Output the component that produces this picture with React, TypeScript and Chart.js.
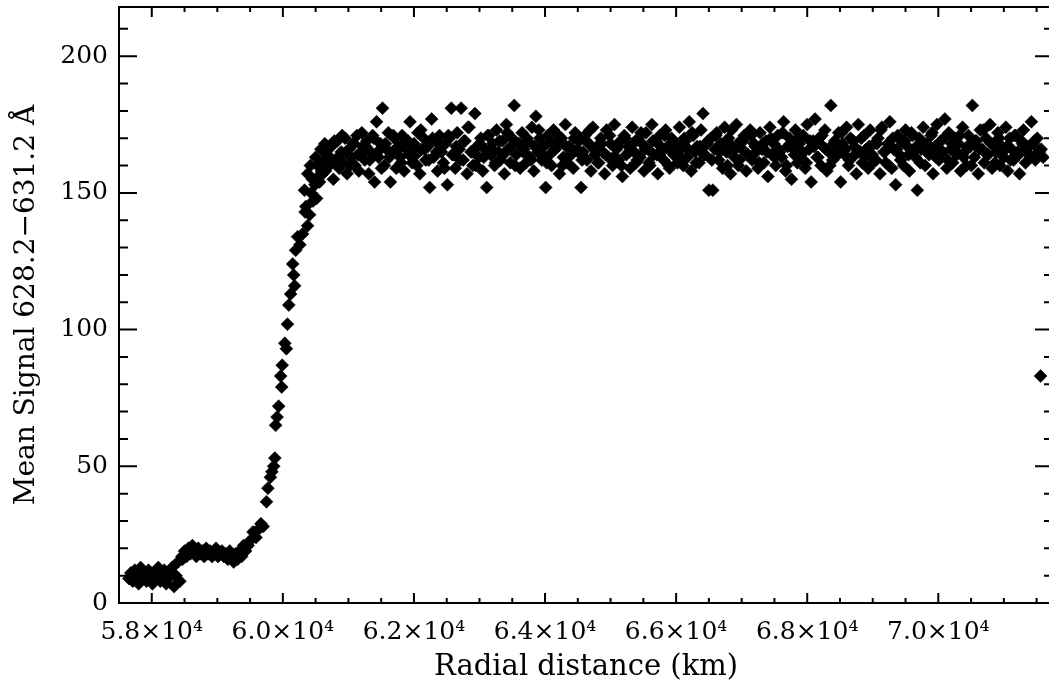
import React, { useEffect, useRef } from "react";
import { Chart, registerables } from "chart.js";

Chart.register(...registerables);

// ---------- data ----------
const radialKm: number[] = [
  // low plateau
  57650, 57680, 57710, 57740, 57770, 57800, 57830, 57860, 57890, 57920, 57950, 57980, 58010, 58040, 58070, 58100, 58130, 58160, 58190, 58220,
  58250, 58280, 58310, 58340, 58370, 58400, 58430, 58460,
  58470, 58500, 58530, 58560, 58590, 58620, 58650, 58680, 58710, 58740, 58770, 58800, 58830, 58860, 58890, 58920, 58950, 58980, 59010, 59040,
  59070, 59100, 59130, 59160, 59190, 59220, 59250, 59280, 59310, 59340, 59370, 59400, 59430,
  // rise
  59470, 59510, 59545, 59590, 59630, 59665, 59700, 59750, 59772, 59810, 59832, 59860, 59878, 59890, 59912, 59936, 59967, 59982, 59990, 60030,
  60054, 60070, 60091, 60118, 60150, 60165, 60180, 60195, 60225, 60260, 60301, 60330, 60340, 60350, 60377, 60380, 60408, 60420, 60430, 60450,
  60460, 60490, 60500, 60514, 60530, 60540, 60560, 60580, 60590, 60610, 60620, 60640,
  // high plateau
  60650, 60680, 60710, 60740, 60770, 60800, 60830, 60860, 60890, 60920, 60950, 60980, 61010, 61040, 61070, 61100, 61130, 61160, 61190, 61220,
  61250, 61280, 61310, 61340, 61370, 61400, 61430, 61460, 61490, 61520, 61550, 61580, 61610, 61640, 61670, 61700, 61730, 61760, 61790, 61820,
  61850, 61880, 61910, 61940, 61970, 62000, 62030, 62060, 62090, 62120, 62150, 62180, 62210, 62240, 62270, 62300, 62330, 62360, 62390, 62420,
  62450, 62480, 62510, 62540, 62570, 62600, 62630, 62660, 62690, 62720, 62750, 62780, 62810, 62840, 62870, 62900, 62930, 62960, 62990, 63020,
  63050, 63080, 63110, 63140, 63170, 63200, 63230, 63260, 63290, 63320, 63350, 63380, 63410, 63440, 63470, 63500, 63530, 63560, 63590, 63620,
  63650, 63680, 63710, 63740, 63770, 63800, 63830, 63860, 63890, 63920, 63950, 63980, 64010, 64040, 64070, 64100, 64130, 64160, 64190, 64220,
  64250, 64280, 64310, 64340, 64370, 64400, 64430, 64460, 64490, 64520, 64550, 64580, 64610, 64640, 64670, 64700, 64730, 64760, 64790, 64820,
  64850, 64880, 64910, 64940, 64970, 65000, 65030, 65060, 65090, 65120, 65150, 65180, 65210, 65240, 65270, 65300, 65330, 65360, 65390, 65420,
  65450, 65480, 65510, 65540, 65570, 65600, 65630, 65660, 65690, 65720, 65750, 65780, 65810, 65840, 65870, 65900, 65930, 65960, 65990, 66020,
  66050, 66080, 66110, 66140, 66170, 66200, 66230, 66260, 66290, 66320, 66350, 66380, 66410, 66440, 66470, 66500, 66530, 66560, 66590, 66620,
  66650, 66680, 66710, 66740, 66770, 66800, 66830, 66860, 66890, 66920, 66950, 66980, 67010, 67040, 67070, 67100, 67130, 67160, 67190, 67220,
  67250, 67280, 67310, 67340, 67370, 67400, 67430, 67460, 67490, 67520, 67550, 67580, 67610, 67640, 67670, 67700, 67730, 67760, 67790, 67820,
  67850, 67880, 67910, 67940, 67970, 68000, 68030, 68060, 68090, 68120, 68150, 68180, 68210, 68240, 68270, 68300, 68330, 68360, 68390, 68420,
  68450, 68480, 68510, 68540, 68570, 68600, 68630, 68660, 68690, 68720, 68750, 68780, 68810, 68840, 68870, 68900, 68930, 68960, 68990, 69020,
  69050, 69080, 69110, 69140, 69170, 69200, 69230, 69260, 69290, 69320, 69350, 69380, 69410, 69440, 69470, 69500, 69530, 69560, 69590, 69620,
  69650, 69680, 69710, 69740, 69770, 69800, 69830, 69860, 69890, 69920, 69950, 69980, 70010, 70040, 70070, 70100, 70130, 70160, 70190, 70220,
  70250, 70280, 70310, 70340, 70370, 70400, 70430, 70460, 70490, 70520, 70550, 70580, 70610, 70640, 70670, 70700, 70730, 70760, 70790, 70820,
  70850, 70880, 70910, 70940, 70970, 71000, 71030, 71060, 71090, 71120, 71150, 71180, 71210, 71240, 71270, 71300, 71330, 71360, 71390, 71420,
  71450, 71480, 71510, 71540, 71570, 71600,
  // isolated last sample
  71560,
];

const meanSignal: number[] = [
  9, 11, 8, 12, 10, 7, 13, 9, 11, 8, 12, 10, 7, 11, 9, 13, 8, 10, 12, 7,
  9, 11, 13, 6, 10, 15, 8, 17,
  16, 19, 17, 20, 18, 21, 19, 17, 20, 18, 19, 17, 20, 18, 19, 17, 18, 20, 17, 18,
  19, 17, 18, 16, 19, 17, 15, 18, 16, 19, 17, 21, 19,
  21, 23, 26, 24, 27, 29, 28, 37, 42, 46, 48, 50, 53, 65, 68, 72, 83, 79, 87, 95,
  93, 102, 109, 113, 124, 120, 116, 129, 134, 131, 135, 151, 143, 145, 138, 157, 142, 160, 150, 155,
  147, 153, 163, 148, 160, 156, 154, 166, 158, 157, 162, 168,
  158, 164, 160, 167, 155, 162, 169, 159, 165, 161, 170, 157, 166, 163, 168, 160, 171, 158, 164, 167,
  162, 169, 157, 165, 171, 154, 176, 163, 168, 181, 160, 166, 172, 154, 165, 170, 159, 167, 163, 171,
  158, 166, 169, 176, 161, 168, 164, 172, 157, 166, 170, 162, 167, 152, 177, 163, 169, 158, 171, 165,
  161, 168, 153, 170, 181, 164, 159, 172, 166, 181, 162, 169, 157, 174, 165, 160, 179, 167, 163, 170,
  158, 166, 152, 171, 164, 168, 160, 173, 165, 162, 169, 157, 175, 166, 161, 170, 182, 164, 168, 159,
  172, 166, 161, 169, 163, 174, 158, 178, 165, 170, 162, 167, 152, 171, 164, 160, 173, 166, 168, 157,
  170, 163, 175, 161, 167, 164, 159, 172, 166, 169, 152, 165, 171, 162, 168, 158, 174, 164, 167, 161,
  170, 165, 157, 173, 163, 168, 160, 175, 166, 162, 169, 156, 171, 164, 167, 159, 174, 165, 161, 170,
  163, 168, 158, 172, 166, 160, 175, 164, 169, 157, 171, 165, 162, 173, 167, 159, 170, 164, 168, 161,
  174, 166, 160, 169, 163, 176, 158, 171, 165, 167, 161, 173, 179, 164, 168, 151, 170, 151, 166, 172,
  162, 168, 159, 174, 165, 170, 157, 167, 163, 175, 160, 169, 166, 171, 158, 164, 173, 162, 168, 165,
  159, 172, 166, 161, 169, 156, 174, 164, 168, 160, 171, 165, 163, 176, 158, 167, 170, 155, 166, 173,
  161, 168, 164, 171, 159, 175, 166, 154, 169, 177, 163, 170, 160, 167, 173, 158, 165, 182, 162, 169,
  166, 172, 154, 168, 164, 174, 160, 170, 163, 167, 157, 175, 165, 161, 171, 166, 159, 173, 164, 168,
  162, 170, 157, 174, 165, 161, 168, 176, 159, 166, 153, 171, 164, 169, 160, 173, 167, 158, 172, 165,
  163, 151, 170, 166, 174, 160, 168, 164, 171, 157, 167, 175, 162, 169, 165, 177, 159, 172, 166, 161,
  170, 164, 168, 158, 174, 165, 160, 171, 167, 182, 163, 169, 157, 173, 166, 161, 170, 164, 175, 159,
  168, 165, 172, 160, 167, 163, 174, 158, 170, 166, 162, 171, 165, 157, 169, 173, 161, 167, 164, 176,
  168, 162, 170, 165, 166, 163,
  83,
];

// interleaved second set of samples across the high plateau
const plateauRadialKm: number[] = [
  60665, 60725, 60785, 60845, 60905, 60965, 61025, 61085, 61145, 61205, 61265, 61325, 61385, 61445, 61505, 61565, 61625, 61685, 61745, 61805,
  61865, 61925, 61985, 62045, 62105, 62165, 62225, 62285, 62345, 62405, 62465, 62525, 62585, 62645, 62705, 62765, 62825, 62885, 62945, 63005,
  63065, 63125, 63185, 63245, 63305, 63365, 63425, 63485, 63545, 63605, 63665, 63725, 63785, 63845, 63905, 63965, 64025, 64085, 64145, 64205,
  64265, 64325, 64385, 64445, 64505, 64565, 64625, 64685, 64745, 64805, 64865, 64925, 64985, 65045, 65105, 65165, 65225, 65285, 65345, 65405,
  65465, 65525, 65585, 65645, 65705, 65765, 65825, 65885, 65945, 66005, 66065, 66125, 66185, 66245, 66305, 66365, 66425, 66485, 66545, 66605,
  66665, 66725, 66785, 66845, 66905, 66965, 67025, 67085, 67145, 67205, 67265, 67325, 67385, 67445, 67505, 67565, 67625, 67685, 67745, 67805,
  67865, 67925, 67985, 68045, 68105, 68165, 68225, 68285, 68345, 68405, 68465, 68525, 68585, 68645, 68705, 68765, 68825, 68885, 68945, 69005,
  69065, 69125, 69185, 69245, 69305, 69365, 69425, 69485, 69545, 69605, 69665, 69725, 69785, 69845, 69905, 69965, 70025, 70085, 70145, 70205,
  70265, 70325, 70385, 70445, 70505, 70565, 70625, 70685, 70745, 70805, 70865, 70925, 70985, 71045, 71105, 71165, 71225, 71285, 71345, 71405,
  71465, 71525,
];

const plateauSignal: number[] = [
  166, 161, 169, 163, 171, 165, 160, 168, 164, 172, 167, 162, 170, 165, 159, 168, 163, 171, 166, 161,
  169, 164, 167, 160, 173, 166, 162, 170, 165, 168, 159, 171, 164, 167, 162, 169, 174, 165, 160, 168,
  163, 171, 166, 161, 169, 164, 172, 167, 160, 168, 165, 170, 162, 167, 173, 164, 161, 169, 166, 171,
  160, 167, 164, 170, 165, 162, 169, 173, 166, 161, 168, 164, 171, 163, 167, 160, 170, 165, 168, 162,
  172, 166, 161, 169, 164, 167, 171, 160, 165, 168, 163, 170, 166, 172, 161, 167, 164, 169, 162, 171,
  165, 168, 160, 173, 166, 162, 169, 164, 171, 167, 161, 168, 165, 170, 163, 166, 172, 160, 168, 164,
  170, 165, 161, 169, 167, 163, 171, 166, 160, 168, 164, 172, 166, 162, 169, 165, 170, 163, 167, 161,
  168, 173, 165, 160, 170, 166, 162, 169, 164, 171, 167, 161, 168, 165, 172, 163, 166, 170, 162, 168,
  165, 171, 163, 167, 160, 169, 166, 173, 164, 168, 161, 170, 165, 167, 162, 171, 164, 168, 166, 163,
  169, 165,
];

const xRange = [57500, 71750];
const yRange = [0, 218];
const xMajorTicks = [58000, 60000, 62000, 64000, 66000, 68000, 70000];
const xTickLabels = ["5.8×10⁴", "6.0×10⁴", "6.2×10⁴", "6.4×10⁴", "6.6×10⁴", "6.8×10⁴", "7.0×10⁴"];
const xMinorTicks = [
  57500, 58000, 58500, 59000, 59500, 60000, 60500, 61000, 61500, 62000, 62500, 63000, 63500, 64000, 64500,
  65000, 65500, 66000, 66500, 67000, 67500, 68000, 68500, 69000, 69500, 70000, 70500, 71000, 71500,
];
const yMajorTicks = [0, 50, 100, 150, 200];
const yTickLabels = ["0", "50", "100", "150", "200"];
const yMinorTicks = [0, 10, 20, 30, 40, 50, 60, 70, 80, 90, 100, 110, 120, 130, 140, 150, 160, 170, 180, 190, 200, 210];

const xTitle = "Radial distance (km)";
const yTitle = "Mean Signal 628.2−631.2 Å";

const FONT = "DejaVu Serif";

const idlFrame = {
  id: "idlFrame",
  afterDraw(chart: any) {
    const { ctx, chartArea, scales } = chart;
    const { left, right, top, bottom } = chartArea;
    const x = scales.x;
    const y = scales.y;
    ctx.save();
    ctx.strokeStyle = "#000";
    ctx.lineWidth = 2;
    ctx.beginPath();
    ctx.rect(left, top, right - left, bottom - top);
    for (const v of xMinorTicks) {
      const px = x.getPixelForValue(v);
      ctx.moveTo(px, bottom);
      ctx.lineTo(px, bottom - 5);
      ctx.moveTo(px, top);
      ctx.lineTo(px, top + 5);
    }
    for (const v of xMajorTicks) {
      const px = x.getPixelForValue(v);
      ctx.moveTo(px, bottom);
      ctx.lineTo(px, bottom - 10);
      ctx.moveTo(px, top);
      ctx.lineTo(px, top + 10);
    }
    for (const v of yMinorTicks) {
      const py = y.getPixelForValue(v);
      ctx.moveTo(left, py);
      ctx.lineTo(left + 9, py);
      ctx.moveTo(right, py);
      ctx.lineTo(right - 9, py);
    }
    for (const v of yMajorTicks) {
      const py = y.getPixelForValue(v);
      ctx.moveTo(left, py);
      ctx.lineTo(left + 18, py);
      ctx.moveTo(right, py);
      ctx.lineTo(right - 18, py);
    }
    ctx.stroke();
    ctx.restore();
  },
};

export default function App() {
  const ref = useRef<HTMLCanvasElement | null>(null);

  useEffect(() => {
    if (!ref.current) return;
    const points = radialKm.map((r, i) => ({ x: r, y: meanSignal[i] }));
    const points2 = plateauRadialKm.map((r, i) => ({ x: r, y: plateauSignal[i] }));
    const style = {
      pointStyle: "rectRot",
      pointRadius: 6.5,
      pointBackgroundColor: "#000",
      pointBorderColor: "#000",
      pointBorderWidth: 0.5,
    };
    const chart = new Chart(ref.current, {
      type: "scatter",
      data: {
        datasets: [
          { data: points, ...style },
          { data: points2, ...style },
        ],
      },
      options: {
        animation: false,
        responsive: false,
        devicePixelRatio: 1,
        events: [],
        layout: { padding: { top: 7, right: 4, left: 0, bottom: 0 } },
        plugins: { legend: { display: false }, tooltip: { enabled: false }, title: { display: false } },
        scales: {
          x: {
            type: "linear",
            position: "bottom",
            min: xRange[0],
            max: xRange[1],
            grid: { display: false, drawTicks: false },
            border: { display: false },
            afterBuildTicks: (s: any) => {
              s.ticks = xMajorTicks.map((value) => ({ value }));
            },
            afterFit: (s: any) => {
              s.height = 85;
              s.paddingLeft = 0;
              s.paddingRight = 0;
            },
            ticks: {
              autoSkip: false,
              maxRotation: 0,
              minRotation: 0,
              padding: 14,
              color: "#000",
              font: { family: FONT, size: 25 },
              callback: (v: any) => {
                const i = xMajorTicks.indexOf(Number(v));
                return i >= 0 ? xTickLabels[i] : "";
              },
            },
            title: {
              display: true,
              text: xTitle,
              color: "#000",
              font: { family: FONT, size: 29 },
              padding: { top: 0, bottom: 3 },
            },
          },
          y: {
            type: "linear",
            position: "left",
            min: yRange[0],
            max: yRange[1],
            grid: { display: false, drawTicks: false },
            border: { display: false },
            afterBuildTicks: (s: any) => {
              s.ticks = yMajorTicks.map((value) => ({ value }));
            },
            afterFit: (s: any) => {
              s.width = 119;
              s.paddingTop = 0;
              s.paddingBottom = 0;
            },
            ticks: {
              autoSkip: false,
              padding: 11,
              color: "#000",
              font: { family: FONT, size: 25 },
              callback: (v: any) => {
                const i = yMajorTicks.indexOf(Number(v));
                return i >= 0 ? yTickLabels[i] : "";
              },
            },
            title: {
              display: true,
              text: yTitle,
              color: "#000",
              font: { family: FONT, size: 28 },
              padding: { top: 10, bottom: 0 },
            },
          },
        },
      },
      plugins: [idlFrame],
    } as any);
    return () => chart.destroy();
  }, []);

  return (
    <div
      style={{
        position: "fixed",
        left: 0,
        top: 0,
        width: 1049,
        height: 688,
        overflow: "hidden",
        background: "#fff",
      }}
    >
      <canvas ref={ref} width={1060} height={688} style={{ display: "block", width: 1060, height: 688 }} />
    </div>
  );
}
